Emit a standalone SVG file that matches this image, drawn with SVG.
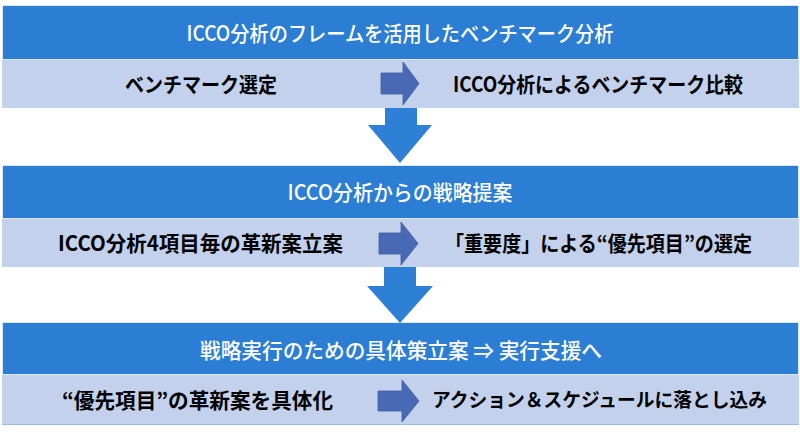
<svg xmlns="http://www.w3.org/2000/svg" width="800" height="433" viewBox="0 0 800 433">
<defs>
<style>
.bar{fill:#2C7ED4;stroke:#DCE7F5;stroke-width:1}
.sub{fill:#C3D1EC}
.title{font-family:"Noto Sans CJK JP","Noto Sans",sans-serif;font-size:21px;fill:#FFFFFF;font-weight:500;text-anchor:middle}
.body{font-family:"Noto Sans CJK JP","Noto Sans",sans-serif;font-size:21px;fill:#000000;font-weight:700;text-anchor:middle}
.rarrow{fill:#4A69B5;stroke:#3F5DA6;stroke-width:0.8}
.darrow{fill:#2E7FD6}
</style>
</defs>
<rect width="800" height="433" fill="#FFFFFF"/>
<g id="stage1">
<rect class="bar" x="2.5" y="5.5" width="796" height="54"/>
<text class="title" x="400" y="40.5" textLength="427" lengthAdjust="spacingAndGlyphs">ICCO分析のフレームを活用したベンチマーク分析</text>
<rect class="sub" x="2" y="60" width="797" height="48"/>
</g>
<g id="node-benchmark-select">
<text class="body" x="201" y="91.5" textLength="152" lengthAdjust="spacingAndGlyphs">ベンチマーク選定</text>
</g>
<g id="node-benchmark-compare">
<text class="body" x="598" y="91.5" textLength="290" lengthAdjust="spacingAndGlyphs">ICCO分析によるベンチマーク比較</text>
</g>
<g id="stage2">
<rect class="bar" x="2.5" y="165.5" width="796" height="53"/>
<text class="title" x="400" y="199.5" textLength="225" lengthAdjust="spacingAndGlyphs">ICCO分析からの戦略提案</text>
<rect class="sub" x="2" y="219" width="797" height="48"/>
</g>
<g id="node-innovation-plan">
<text class="body" x="200.5" y="250.5" textLength="285" lengthAdjust="spacingAndGlyphs">ICCO分析4項目毎の革新案立案</text>
</g>
<g id="node-priority-select">
<text class="body" x="598.5" y="250.5" textLength="307" lengthAdjust="spacingAndGlyphs">「重要度」による“優先項目”の選定</text>
</g>
<g id="stage3">
<rect class="bar" x="2.5" y="322.5" width="796" height="52"/>
<text class="title" x="401" y="357.5" textLength="402" lengthAdjust="spacingAndGlyphs">戦略実行のための具体策立案 ⇒ 実行支援へ</text>
<rect class="sub" x="2" y="375" width="797" height="49"/>
<line x1="2" y1="424.5" x2="799" y2="424.5" stroke="#9DB8E4" stroke-width="1"/>
</g>
<g id="node-concretize">
<text class="body" x="197.5" y="407.5" textLength="271" lengthAdjust="spacingAndGlyphs">“優先項目”の革新案を具体化</text>
</g>
<g id="node-action-schedule">
<text class="body" x="599.5" y="407" style="font-size:19px" textLength="335" lengthAdjust="spacingAndGlyphs">アクション＆スケジュールに落とし込み</text>
</g>
<g id="connectors">
<polygon class="rarrow" points="381,73 403,73 403,62 419,83.5 403,105 403,94 381,94"/>
<polygon class="rarrow" points="379,233 401,233 401,222 418,243.5 401,265 401,254 379,254"/>
<polygon class="rarrow" points="378,391 402,391 402,380 419,401 402,422 402,411 378,411"/>
<polygon class="darrow" points="385,108 417,108 417,125 432,125 400,163 368,125 385,125"/>
<polygon class="darrow" points="384,267 416,267 416,286 433,286 400,323 367,286 384,286"/>
</g>
</svg>
